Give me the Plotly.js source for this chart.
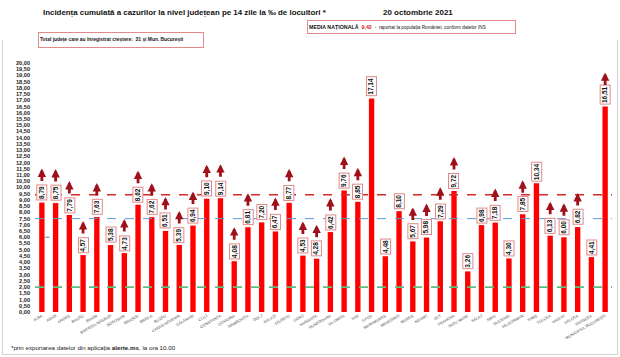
<!DOCTYPE html>
<html><head><meta charset="utf-8">
<script src="https://cdn.plot.ly/plotly-3.0.1.min.js"></script>
<style>html,body{margin:0;padding:0;background:#fff}#wrap{position:relative;width:620px;height:357px}#chart{width:620px;height:357px}#frame{position:absolute;left:2px;top:40px;width:614px;height:314px;border-left:1px solid #d0d0d0;border-right:1px solid #d0d0d0;border-bottom:1px solid #d0d0d0;pointer-events:none}</style>
</head><body><div id="wrap"><div id="chart"></div><div id="frame"></div></div>
<script>
const counties = ["ALBA","ARAD","ARGEȘ","BACĂU","BIHOR","BISTRIȚA-NĂSĂUD","BOTOȘANI","BRAȘOV","BRĂILA","BUZĂU","CARAȘ-SEVERIN","CĂLĂRAȘI","CLUJ","CONSTANȚA","COVASNA","DÂMBOVIȚA","DOLJ","GALAȚI","GIURGIU","GORJ","HARGHITA","HUNEDOARA","IALOMIȚA","IAȘI","ILFOV","MARAMUREȘ","MEHEDINȚI","MUREȘ","NEAMȚ","OLT","PRAHOVA","SATU MARE","SĂLAJ","SIBIU","SUCEAVA","TELEORMAN","TIMIȘ","TULCEA","VASLUI","VÂLCEA","VRANCEA","MUNICIPIUL BUCUREȘTI"];
const incidence = [8.79,8.75,7.79,4.57,7.63,5.38,4.73,8.62,7.62,6.51,5.39,6.94,9.10,9.14,4.08,6.81,7.20,6.47,8.77,4.53,4.28,6.42,9.76,8.85,17.14,4.48,8.10,5.67,5.98,7.29,9.72,3.26,6.98,7.18,4.30,7.85,10.34,6.13,6.00,6.82,4.41,16.51];
const increased = [1,1,1,1,1,0,1,1,1,1,1,1,1,1,1,1,0,1,1,1,1,1,1,1,0,0,0,1,1,1,1,0,0,1,0,1,0,1,1,1,0,1];
const nationalAverage = 9.42;
const blueThreshold = 7.5;
const greenThreshold = 2.0;
const yTickValues = [];
for (let v = 0; v <= 20.0001; v += 0.5) yTickValues.push(+v.toFixed(2));

const W=620,H=357,M={l:35,r:8,t:62.7,b:45.3};
const pw=W-M.l-M.r, ph=H-M.t-M.b;
const px=x=>(x-M.l)/pw, py=y=>1-(y-M.t)/ph;
const fmt=v=>v.toFixed(2).replace('.',',');

const ann=[];
incidence.forEach((v,i)=>{
  ann.push({x:i,y:v,xref:'x',yref:'y',text:'<b>'+fmt(v)+'</b>',textangle:-90,showarrow:false,
    xanchor:'center',yanchor:'bottom',yshift:2,bgcolor:'#ffffff',bordercolor:'#e08a8a',borderwidth:1,borderpad:0.5,
    font:{family:'Liberation Sans, Arial',size:6.5,color:'#111'}});
  if(increased[i]){
    ann.push({x:i,y:v,xref:'x',yref:'y',text:'',showarrow:true,ax:0,ay:14,yshift:34,
      arrowhead:2,arrowsize:0.6,arrowwidth:2.8,arrowcolor:'#a0101a',standoff:0,startstandoff:0});
  }
});
ann.push({xref:'paper',yref:'paper',x:px(185),y:py(12),text:'<b>Incidența cumulată a cazurilor la nivel județean pe 14 zile la ‰ de locuitori *</b>',showarrow:false,xanchor:'center',yanchor:'middle',font:{family:'Liberation Sans, Arial',size:7.9,color:'#111'}});
ann.push({xref:'paper',yref:'paper',x:px(418),y:py(12),text:'<b>20 octombrie 2021</b>',showarrow:false,xanchor:'center',yanchor:'middle',font:{family:'Liberation Sans, Arial',size:8,color:'#111'}});
ann.push({xref:'paper',yref:'paper',x:px(411.5),y:py(27),text:'<b>MEDIA NAȚIONALĂ</b>  <b><span style="color:#e02020">'+fmt(nationalAverage)+'</span></b>  <span style="font-size:4.7px">-  raportat la populația României, conform datelor INS</span>',showarrow:false,xanchor:'center',yanchor:'middle',width:205,height:10,bordercolor:'#e08a8a',borderwidth:1,borderpad:1,bgcolor:'#fff',align:'left',font:{family:'Liberation Sans, Arial',size:5.3,color:'#111'}});
ann.push({xref:'paper',yref:'paper',x:px(121),y:py(40),text:'<b>Total județe care au înregistrat creștere:  31 și Mun. București</b>',showarrow:false,xanchor:'center',yanchor:'middle',width:162,height:12,bordercolor:'#e08a8a',borderwidth:1,borderpad:1,bgcolor:'#fff',align:'left',font:{family:'Liberation Sans, Arial',size:4.9,color:'#111'}});
ann.push({xref:'paper',yref:'paper',x:px(9),y:py(347.5),text:'*prin exportarea datelor din aplicația <b>alerte.ms</b>, la ora 10.00',showarrow:false,xanchor:'left',yanchor:'middle',font:{family:'Liberation Sans, Arial',size:6.2,color:'#222'}});

const shapes=[
  {type:'line',xref:'paper',yref:'y',x0:0,x1:1,y0:nationalAverage,y1:nationalAverage,line:{color:'#d42a2a',width:1.4,dash:'dash'}},
  {type:'line',xref:'paper',yref:'y',x0:0,x1:1,y0:blueThreshold,y1:blueThreshold,line:{color:'#5b9bd5',width:1,dash:'dash'}},
  {type:'line',xref:'paper',yref:'y',x0:0,x1:1,y0:greenThreshold,y1:greenThreshold,line:{color:'#5cbf80',width:1.6,dash:'dash'}},
  {type:'line',xref:'x',yref:'y',x0:0.25,x1:0.55,y0:6.0,y1:6.0,line:{color:'#5b9bd5',width:1.2}}
];

Plotly.newPlot('chart',[{type:'bar',x:counties.map((c,i)=>i),y:incidence,marker:{color:'#ff0000'},hoverinfo:'skip'}],{
  width:W,height:H,margin:{l:M.l,r:M.r,t:M.t,b:M.b,pad:0},
  paper_bgcolor:'#fff',plot_bgcolor:'#fff',showlegend:false,bargap:0.61,separators:',.',
  xaxis:{range:[-0.5,41.5],tickmode:'array',tickvals:counties.map((c,i)=>i),ticktext:counties,tickangle:-30,
    tickfont:{family:'Liberation Sans, Arial',size:3.9,color:'#444'},showgrid:false,zeroline:false,showline:false,ticks:''},
  yaxis:{range:[0,20],tickmode:'array',tickvals:yTickValues,ticktext:yTickValues.map(fmt),
    tickfont:{family:'Liberation Sans, Arial',size:5.6,color:'#222',weight:'bold'},showgrid:false,zeroline:false,showline:false,ticks:'',ticklabelstandoff:4},
  annotations:ann,shapes:shapes
},{staticPlot:true});
</script></body></html>
